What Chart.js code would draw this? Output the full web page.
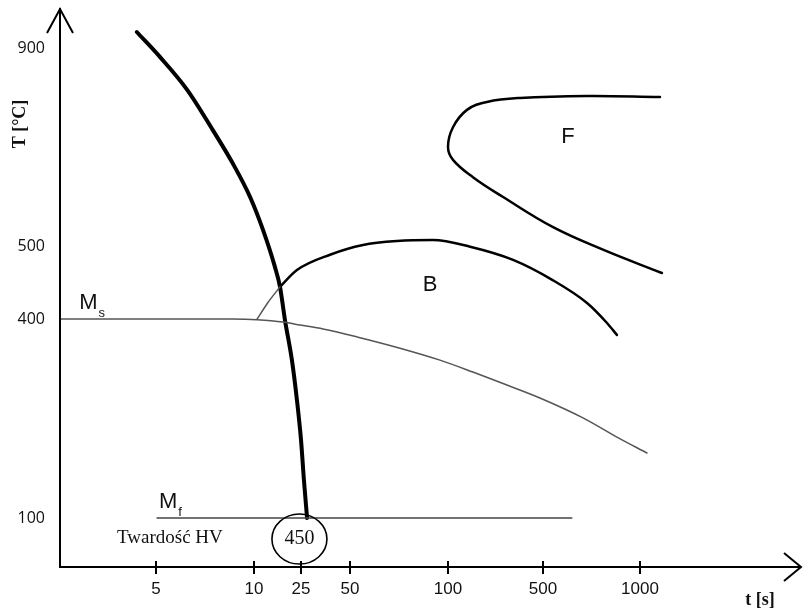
<!DOCTYPE html>
<html><head><meta charset="utf-8">
<script src="https://cdn.jsdelivr.net/npm/chart.js@4.4.1/dist/chart.umd.min.js"></script>
<style>html,body{margin:0;padding:0;background:#fff}#wrap{width:803px;height:612px;position:relative}</style>
</head><body><div id="wrap"><canvas id="c"></canvas></div>
<script>
// ---- data (t in s, T in °C) ----
const xTickValues = [5, 10, 25, 50, 100, 500, 1000];
const yTickValues = [100, 400, 500, 900];

const cooling_t = [4.0, 5.2, 6.6, 7.9, 8.9, 9.8, 12.9, 16.7, 18.3, 19.9, 22.1, 23.7, 25, 26.5, 28.1];
const cooling_T = [932, 882, 815, 734, 668, 599, 532, 471, 444, 398, 338, 278, 218, 157, 100];

const Ms_t = [0, 8.9, 11.0, 19.3, 24.7, 36.2, 53.6, 75.5, 95.9, 205, 348, 487, 706, 881, 1036];
const Ms_T = [400, 400, 399, 395.5, 391, 385, 373, 356, 338, 320, 300.5, 281, 251, 222, 198];

const Bstart_t = [11.0, 14.5, 18.3];
const Bstart_T = [400, 423, 444];

const B_t = [18.3, 23.7, 39.8, 56.6, 74.0, 92.3, 193, 374, 552, 727, 830, 881];
const B_T = [444, 467, 488, 502, 510, 512, 499, 481, 453, 422, 394, 376];

const F_t = [1103, 727, 403, 264, 180, 121, 100, 121, 205, 332, 552, 809, 1113];
const F_T = [801, 803, 799, 791, 775, 740, 700, 674, 639, 599, 538, 495, 463];

const Mf_t = [5.05, 649];
const Mf_T = [100, 100];

const hardnessValue = '450';
const hardnessLabel = 'Twardość HV';

// ---- non-uniform axis geometry (value knots -> relative axis position) ----
const KNOTS = {
  x: { values: [0, 5, 10, 25, 50, 100, 500, 1000, 1835], pos: [0, 96, 194, 241, 290, 388, 483, 580, 742] },
  y: { values: [0, 100, 400, 500, 900, 980], pos: [0, 49, 248, 321, 519, 559] }
};
function interp(v, xs, ys) {
  const n = xs.length;
  let i = 0;
  if (v <= xs[0]) i = 0;
  else if (v >= xs[n - 1]) i = n - 2;
  else { while (i < n - 2 && v > xs[i + 1]) i++; }
  const x0 = xs[i], x1 = xs[i + 1];
  return ys[i] + (v - x0) / (x1 - x0) * (ys[i + 1] - ys[i]);
}
class PiecewiseScale extends Chart.LinearScale {
  getPixelForValue(value) {
    if (value === null || value === undefined) return NaN;
    const k = KNOTS[this.axis];
    const u = interp(value, k.values, k.pos);
    return this.getPixelForDecimal(u / k.pos[k.pos.length - 1]);
  }
  getValueForPixel(pixel) {
    const k = KNOTS[this.axis];
    const d = this.getDecimalForPixel(pixel);
    return interp(d * k.pos[k.pos.length - 1], k.pos, k.values);
  }
}
PiecewiseScale.id = 'piecewise';
PiecewiseScale.defaults = Chart.LinearScale.defaults;
Chart.register(PiecewiseScale);

const zip = (a, b) => a.map((v, i) => ({ x: v, y: b[i] }));

const annot = {
  id: 'annot',
  afterDraw(chart) {
    const { ctx, chartArea: a, scales: { x, y } } = chart;
    ctx.save();
    ctx.strokeStyle = '#000'; ctx.lineWidth = 2; ctx.lineCap = 'butt'; ctx.lineJoin = 'miter';
    // axes
    ctx.beginPath(); ctx.moveTo(a.left, a.bottom + 1); ctx.lineTo(a.left, a.top); ctx.stroke();
    ctx.beginPath(); ctx.moveTo(a.left - 13, a.top + 25); ctx.lineTo(a.left, a.top + 1); ctx.lineTo(a.left + 13, a.top + 25); ctx.stroke();
    ctx.beginPath(); ctx.moveTo(a.left - 1, a.bottom); ctx.lineTo(a.right - 1, a.bottom); ctx.stroke();
    ctx.beginPath(); ctx.moveTo(a.right - 18, a.bottom - 14); ctx.lineTo(a.right - 1, a.bottom); ctx.lineTo(a.right - 18, a.bottom + 14); ctx.stroke();
    xTickValues.forEach(v => {
      const px = Math.round(x.getPixelForValue(v));
      ctx.beginPath(); ctx.moveTo(px, a.bottom - 6); ctx.lineTo(px, a.bottom + 7); ctx.stroke();
    });
    ctx.fillStyle = '#111';
    // Ms
    ctx.textAlign = 'left'; ctx.textBaseline = 'alphabetic';
    ctx.font = '22px "Liberation Sans", Arial, sans-serif';
    let mx = x.getPixelForValue(1.0), my = y.getPixelForValue(414);
    ctx.fillText('M', mx, my);
    let w = ctx.measureText('M').width;
    ctx.font = '13px "Liberation Sans", Arial, sans-serif';
    ctx.fillText('s', mx + w + 1, my + 8);
    // Mf
    ctx.font = '22px "Liberation Sans", Arial, sans-serif';
    mx = x.getPixelForValue(5.15); my = y.getPixelForValue(115);
    ctx.fillText('M', mx, my);
    w = ctx.measureText('M').width;
    ctx.font = '13px "Liberation Sans", Arial, sans-serif';
    ctx.fillText('f', mx + w + 1, my + 8);
    // B, F
    ctx.textAlign = 'center'; ctx.textBaseline = 'middle';
    ctx.font = '22px "Liberation Sans", Arial, sans-serif';
    ctx.fillText('B', x.getPixelForValue(90.8), y.getPixelForValue(446.6));
    ctx.fillText('F', x.getPixelForValue(629), y.getPixelForValue(720));
    // hardness
    ctx.textAlign = 'left';
    ctx.font = '19px "Liberation Serif", "Times New Roman", serif';
    ctx.fillText(hardnessLabel, x.getPixelForValue(2.97), y.getPixelForValue(59));
    const cx = x.getPixelForValue(24.5), cy = y.getPixelForValue(57);
    ctx.textAlign = 'center';
    ctx.font = '20px "Liberation Serif", "Times New Roman", serif';
    ctx.fillText(hardnessValue, cx, cy);
    ctx.lineWidth = 1.6;
    ctx.beginPath(); ctx.ellipse(cx, cy, 27.5, 25, 0, 0, Math.PI * 2); ctx.stroke();
    // axis titles
    ctx.font = 'bold 18px "Liberation Serif", "Times New Roman", serif';
    ctx.fillText('t [s]', 760, 600);
    ctx.save();
    ctx.translate(20, 124); ctx.rotate(-Math.PI / 2);
    ctx.fillText('T [°C]', 0, 0);
    ctx.restore();
    ctx.restore();
  }
};

const lineDs = (data, color, width, tension, mono) => ({
  data, borderColor: color, borderWidth: width, showLine: true, pointRadius: 0,
  tension: tension, cubicInterpolationMode: mono ? 'monotone' : 'default',
  fill: false, borderCapStyle: 'round', borderJoinStyle: 'round'
});

new Chart(document.getElementById('c'), {
  type: 'scatter',
  data: {
    datasets: [
      lineDs(zip(Ms_t, Ms_T), '#555', 1.5, 0.3, true),
      lineDs(zip(Bstart_t, Bstart_T), '#555', 1.5, 0.2, false),
      lineDs(zip(Mf_t, Mf_T), '#444', 1.3, 0, false),
      lineDs(zip(B_t, B_T), '#000', 2.5, 0.4, true),
      lineDs(zip(F_t, F_T), '#000', 2.5, 0.4, false),
      lineDs(zip(cooling_t, cooling_T), '#000', 4, 0.4, true)
    ]
  },
  options: {
    responsive: true, maintainAspectRatio: false, animation: false,
    layout: { autoPadding: false, padding: { top: 8, right: 1, left: 0, bottom: 0 } },
    plugins: { legend: { display: false }, tooltip: { enabled: false } },
    scales: {
      x: {
        type: 'piecewise', min: 0, max: 1835,
        grid: { display: false, drawTicks: false }, border: { display: false },
        afterBuildTicks: s => { s.ticks = xTickValues.map(v => ({ value: v })); },
        afterFit: s => { s.height = 45; s.paddingLeft = 0; s.paddingRight = 0; },
        ticks: { autoSkip: false, maxRotation: 0, padding: 12, color: '#111',
          font: { family: '"Liberation Sans", Arial, sans-serif', size: 17 },
          callback: v => String(v) }
      },
      y: {
        type: 'piecewise', min: 0, max: 980,
        grid: { display: false, drawTicks: false }, border: { display: false },
        afterBuildTicks: s => { s.ticks = yTickValues.map(v => ({ value: v })); },
        afterFit: s => { s.width = 60; s.paddingTop = 0; s.paddingBottom = 0; },
        ticks: { autoSkip: false, padding: 15, color: '#111',
          font: { family: '"Open Sans", sans-serif', size: 16 },
          callback: v => String(v) }
      }
    }
  },
  plugins: [annot]
});
</script>
</body></html>
